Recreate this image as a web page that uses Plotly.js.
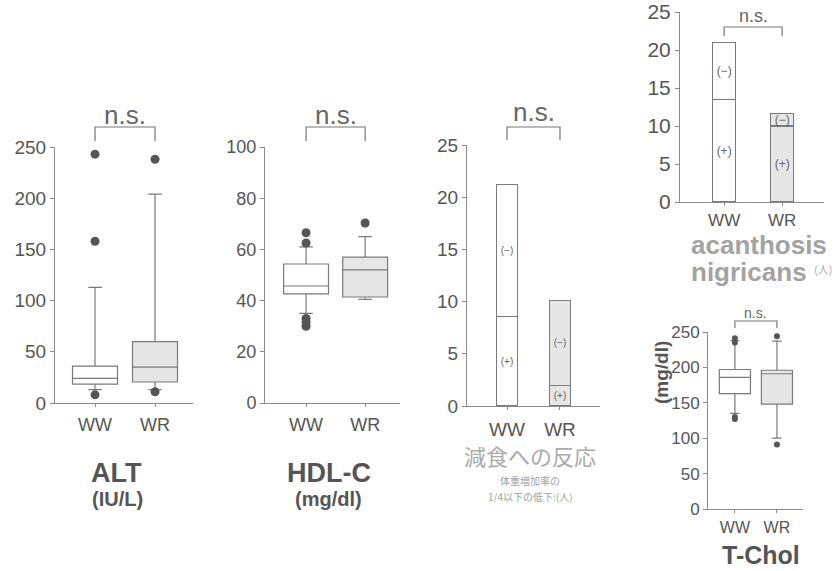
<!DOCTYPE html>
<html>
<head>
<meta charset="utf-8">
<script src="https://cdn.plot.ly/plotly-3.0.1.min.js"></script>
<style>html,body{margin:0;padding:0;background:#fff;}#chart{width:840px;height:571px;}</style>
</head>
<body>
<div id="chart"></div>
<script>
// ---- data ----
const cats = ['WW', 'WR'];

// ALT (IU/L)
const altQ1 = [18.5, 20.5];
const altMedian = [24, 35];
const altQ3 = [36, 60];
const altLow = [13, 13];
const altHigh = [113, 204];
const altOutWW = [243, 158, 8];
const altOutWR = [238, 11];

// HDL-C (mg/dl)
const hdlQ1 = [42.6, 41.4];
const hdlMedian = [45.7, 52];
const hdlQ3 = [54.3, 57];
const hdlLow = [35, 40.5];
const hdlHigh = [61, 65];
const hdlOutWW = [66.5, 62.5, 33, 31.5, 30];
const hdlOutWR = [70.3];

// 減食への反応 (人)
const dietPlus = [8.6, 2];
const dietMinus = [12.6, 8.1];

// acanthosis nigricans (人)
const acanPlus = [13.5, 10];
const acanMinus = [7.5, 1.7];

// T-Chol (mg/dl)
const tcQ1 = [163, 148];
const tcMedian = [186, 191];
const tcQ3 = [197, 196];
const tcLow = [135, 100];
const tcHigh = [238, 237];
const tcOutWW = [241, 235, 130, 127];
const tcOutWR = [244, 91];

const plusLabel = '(+)';
const minusLabel = '(\u2212)';

// ---- styling helpers ----
const W = 840, H = 571;
const px = p => p / W;
const py = p => 1 - p / H;
const LINE = '#8a8a8a';
const TXT = '#555';
const BOXLINE = '#7a7a7a';
const fills = ['#ffffff', '#e6e6e6'];
const FONT = 'Liberation Sans, Arial, sans-serif';
const CJK = 'Noto Sans CJK JP, sans-serif';

function boxTraces(ax, q1, med, q3, lo, hi, outs, width, msize) {
  const tr = [];
  cats.forEach((c, i) => {
    tr.push({
      type: 'box', xaxis: 'x' + ax, yaxis: 'y' + ax, orientation: 'v',
      x: [i], q1: [q1[i]], median: [med[i]], q3: [q3[i]],
      lowerfence: [lo[i]], upperfence: [hi[i]],
      width: width, whiskerwidth: 0.3, boxpoints: false,
      fillcolor: fills[i], line: {color: BOXLINE, width: 1.2},
      hoverinfo: 'skip', name: c
    });
    tr.push({
      type: 'scatter', mode: 'markers', xaxis: 'x' + ax, yaxis: 'y' + ax,
      x: outs[i].map(() => i), y: outs[i], cliponaxis: false,
      marker: {color: '#555', size: msize}, hoverinfo: 'skip'
    });
  });
  return tr;
}

function barTraces(ax, plus, minus, fs, w) {
  const common = {
    type: 'bar', xaxis: 'x' + ax, yaxis: 'y' + ax, x: cats.map((c, i) => i),
    width: w,
    marker: {color: fills, line: {color: BOXLINE, width: 1.1}},
    textposition: 'inside', insidetextanchor: 'middle', constraintext: 'none',
    textangle: 0, textfont: {size: fs, color: '#666', family: FONT},
    hoverinfo: 'skip'
  };
  return [
    Object.assign({}, common, {y: plus, text: plus.map(() => plusLabel)}),
    Object.assign({}, common, {y: minus, text: minus.map(() => minusLabel)})
  ];
}

const data = [].concat(
  boxTraces('', altQ1, altMedian, altQ3, altLow, altHigh, [altOutWW, altOutWR], 0.75, 9),
  boxTraces(2, hdlQ1, hdlMedian, hdlQ3, hdlLow, hdlHigh, [hdlOutWW, hdlOutWR], 0.76, 9),
  barTraces(3, dietPlus, dietMinus, 10, 0.38),
  barTraces(4, acanPlus, acanMinus, 12, 0.4),
  boxTraces(5, tcQ1, tcMedian, tcQ3, tcLow, tcHigh, [tcOutWW, tcOutWR], 0.74, 6)
);

function yax(n, dom, range, tickvals, fs) {
  return {
    anchor: 'x' + n,
    domain: [py(dom[1]), py(dom[0])], range: range, tickvals: tickvals,
    showline: true, linecolor: LINE, linewidth: 1, ticks: 'outside', ticklen: 4,
    tickcolor: LINE, showgrid: false, zeroline: false, fixedrange: true,
    tickfont: {size: fs, color: TXT, family: FONT}
  };
}
function xax(n, dom, range, fs, standoff) {
  return {
    anchor: 'y' + n,
    domain: [px(dom[0]), px(dom[1])], range: range, tickvals: [0, 1], ticktext: cats,
    showline: true, linecolor: LINE, linewidth: 1, ticks: 'outside', ticklen: 3,
    tickcolor: LINE, showgrid: false, zeroline: false, fixedrange: true,
    ticklabelstandoff: standoff || 0,
    tickfont: {size: fs, color: TXT, family: FONT}
  };
}

function bracket(ax, top, bottom) {
  return {
    type: 'path', xref: 'x' + ax, yref: 'paper',
    path: `M 0,${py(bottom)} L 0,${py(top)} L 1,${py(top)} L 1,${py(bottom)}`,
    line: {color: '#777', width: 1.2}
  };
}
function ann(text, x, y, size, opts) {
  return Object.assign({
    text: text, xref: 'paper', yref: 'paper', x: px(x), y: py(y),
    xanchor: 'center', yanchor: 'middle', showarrow: false,
    font: {size: size, color: TXT, family: FONT}
  }, opts || {});
}
function ns(ax, y, size) {
  return {
    text: 'n.s.', xref: 'x' + ax, yref: 'paper', x: 0.5, y: py(y),
    xanchor: 'center', yanchor: 'middle', showarrow: false,
    font: {size: size, color: '#666', family: FONT}
  };
}

const layout = {
  width: W, height: H, margin: {l: 0, r: 0, t: 0, b: 0},
  paper_bgcolor: '#fff', plot_bgcolor: 'rgba(0,0,0,0)',
  showlegend: false, barmode: 'stack', boxmode: 'overlay',
  xaxis: xax('', [55, 193], [-0.667, 1.633], 18, 2),
  yaxis: yax('', [147, 403], [0, 250], [0, 50, 100, 150, 200, 250], 19),
  xaxis2: xax(2, [265, 400], [-0.695, 1.59], 18, 2),
  yaxis2: yax(2, [147, 403], [0, 100], [0, 20, 40, 60, 80, 100], 18),
  xaxis3: xax(3, [467, 600], [-0.755, 1.755], 19, 3),
  yaxis3: yax(3, [145, 406], [0, 25], [0, 5, 10, 15, 20, 25], 19),
  xaxis4: xax(4, [680, 824], [-0.76, 1.72], 17, 0),
  yaxis4: yax(4, [12, 202], [0, 25], [0, 5, 10, 15, 20, 25], 21),
  xaxis5: xax(5, [708, 803], [-0.64, 1.62], 16, 1),
  yaxis5: yax(5, [332, 509], [0, 250], [0, 50, 100, 150, 200, 250], 17),
  shapes: [
    bracket('', 127, 141), bracket(2, 127, 141), bracket(3, 127, 140),
    bracket(4, 27, 36), bracket(5, 321, 328)
  ],
  annotations: [
    ns('', 115, 26), ns(2, 115, 26), ns(3, 112, 26), ns(4, 16, 18), ns(5, 313, 14),
    ann('<b>ALT</b>', 116, 473, 27),
    ann('<b>(IU/L)</b>', 117, 499, 20),
    ann('<b>HDL-C</b>', 329, 473, 27),
    ann('<b>(mg/dl)</b>', 328, 499, 20),
    ann('減食への反応', 530, 455, 22, {font: {size: 22, color: '#aaa', family: CJK}}),
    ann('体重増加率の', 530, 480, 10, {font: {size: 10, color: '#a0a0a0', family: CJK}}),
    ann('1/4以下の低下:(人)', 530, 496, 10, {font: {size: 10, color: '#a0a0a0', family: CJK}}),
    ann('<b>acanthosis</b>', 689, 245, 26, {xanchor: 'left', font: {size: 26, color: '#a3a3a3', family: FONT}}),
    ann('<b>nigricans</b>', 689, 272, 26, {xanchor: 'left', font: {size: 26, color: '#a3a3a3', family: FONT}}),
    ann('(人)', 823, 269, 11, {font: {size: 11, color: '#aaa', family: CJK}}),
    ann('<b>(mg/dl)</b>', 661, 373, 19, {textangle: -90}),
    ann('<b>T-Chol</b>', 761, 555, 25)
  ]
};

Plotly.newPlot('chart', data, layout, {staticPlot: true, displayModeBar: false});
</script>
</body>
</html>
